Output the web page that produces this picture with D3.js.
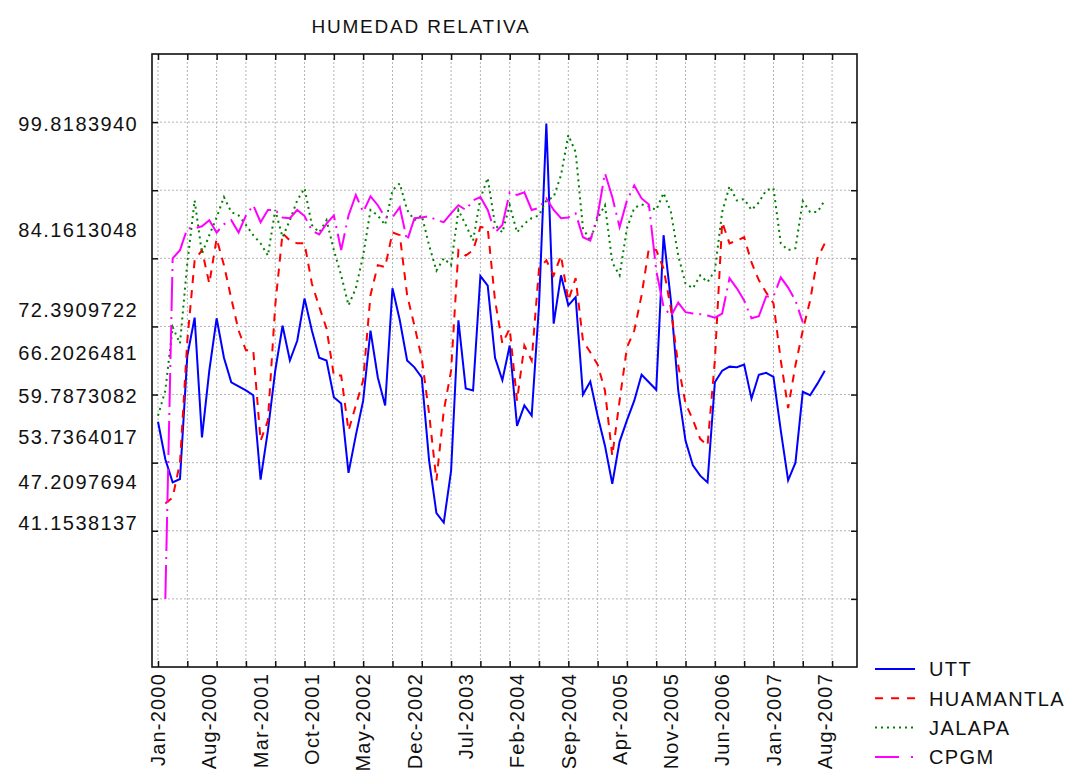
<!DOCTYPE html>
<html>
<head>
<meta charset="utf-8">
<script src="https://cdn.jsdelivr.net/npm/d3@7"></script>
<style>
  body { margin: 0; background: #fff; }
  svg text { font-family: "Liberation Sans", Arial, sans-serif; fill: #111; }
</style>
</head>
<body>
<div id="chart"></div>
<script>
const title = "HUMEDAD RELATIVA";
const seriesNames = ["UTT", "HUAMANTLA", "JALAPA", "CPGM"];
const monthNames = ["Jan","Feb","Mar","Apr","May","Jun","Jul","Aug","Sep","Oct","Nov","Dec"];
const xTickLabels = ["Jan-2000","Aug-2000","Mar-2001","Oct-2001","May-2002","Dec-2002","Jul-2003",
    "Feb-2004","Sep-2004","Apr-2005","Nov-2005","Jun-2006","Jan-2007","Aug-2007"];
const yTickLabels = [99.8183940, 84.1613048, 72.3909722, 66.2026481, 59.7873082, 53.7364017, 47.2097694, 41.1538137];
const gridValues = [30, 40, 50, 60, 70, 80, 90, 100];

// monthly values, Jan-2000 .. Aug-2007
const utt = [
    56.0, 50.5, 47.1, 47.6, 65.7, 71.3, 53.7, 63.5, 71.2, 65.4,
    61.8, 61.2, 60.6, 59.9, 47.5, 54.7, 63.5, 70.1, 65.0, 67.9,
    74.1, 69.4, 65.4, 65.0, 59.6, 58.7, 48.5, 54.0, 59.1, 69.4,
    62.5, 58.4, 75.6, 70.9, 65.0, 64.0, 62.5, 50.3, 42.6, 41.2,
    48.8, 70.9, 60.9, 60.6, 77.4, 76.0, 65.4, 62.1, 67.2, 55.4,
    58.4, 56.9, 73.1, 99.8, 70.4, 77.5, 73.1, 74.3, 60.0, 61.9,
    56.9, 52.5, 46.9, 53.1, 56.2, 59.1, 62.9, 61.8, 60.7, 83.4,
    73.8, 60.6, 53.2, 49.6, 48.1, 47.1, 61.8, 63.5, 64.1, 64.0,
    64.4, 59.4, 62.9, 63.2, 62.6, 54.7, 47.4, 50.0, 60.4, 59.9,
    61.6, 63.5
];
const huamantla = [
    null, 44.0, 44.9, 50.0, 67.9, 79.7, 81.2, 76.3, 82.9, 79.0,
    74.1, 69.4, 66.5, 66.5, 53.2, 56.2, 73.1, 83.7, 82.6, 82.2,
    82.2, 76.3, 72.9, 69.7, 62.8, 62.8, 54.7, 58.4, 62.1, 74.6,
    79.0, 78.7, 83.8, 83.4, 74.6, 70.1, 65.3, 57.2, 47.4, 57.6,
    63.5, 81.2, 80.4, 81.2, 84.6, 84.4, 73.8, 67.5, 69.7, 59.1,
    67.2, 65.0, 78.5, 79.7, 77.5, 80.4, 73.8, 77.1, 67.9, 66.2,
    64.4, 60.6, 51.0, 59.1, 66.9, 69.4, 74.6, 81.5, 81.2, 78.5,
    72.6, 64.3, 58.7, 56.3, 53.5, 52.5, 65.0, 85.3, 82.2, 82.6,
    83.1, 79.4, 76.8, 75.0, 73.4, 65.0, 58.0, 64.3, 69.4, 73.8,
    80.0, 82.2
];
const jalapa = [
    56.9, 60.6, 69.9, 67.5, 79.3, 88.5, 80.7, 83.4, 86.0, 89.0,
    86.8, 86.3, 84.9, 83.4, 82.2, 80.4, 87.1, 83.1, 85.6, 88.5,
    90.3, 84.9, 83.8, 85.6, 81.2, 77.5, 73.1, 75.6, 80.4, 87.1,
    86.3, 84.9, 90.0, 91.0, 87.1, 85.6, 86.3, 81.9, 78.2, 80.0,
    79.0, 87.1, 84.9, 82.6, 88.8, 91.8, 84.9, 83.8, 87.8, 83.8,
    85.1, 85.9, 86.3, 88.5, 89.0, 92.2, 98.1, 95.6, 84.4, 82.6,
    85.9, 87.8, 79.4, 77.5, 84.4, 87.4, 87.9, 87.6, 87.1, 89.6,
    86.8, 80.4, 76.3, 75.6, 77.5, 76.5, 78.2, 86.8, 90.6, 88.5,
    88.7, 87.1, 88.2, 90.0, 90.3, 82.2, 81.2, 81.5, 88.4, 86.8,
    86.8, 88.5
];
const cpgm = [
    null, 30.0, 80.0, 81.2, 84.4, 84.4, 84.7, 85.6, 83.8, 85.0,
    85.6, 83.8, 86.3, 87.8, 85.3, 87.1, 87.1, 86.0, 85.9, 87.1,
    86.2, 84.1, 83.5, 85.1, 86.3, 81.2, 86.3, 89.3, 86.8, 89.1,
    87.8, 86.0, 86.0, 87.5, 82.6, 85.9, 86.0, 86.2, 85.6, 85.3,
    86.6, 87.8, 87.1, 88.5, 89.0, 87.1, 83.8, 84.9, 89.7, 89.3,
    89.7, 87.1, 87.4, 88.8, 87.1, 85.9, 86.0, 86.6, 83.1, 82.6,
    86.3, 92.5, 89.0, 84.6, 88.5, 90.7, 88.8, 87.9, 78.2, 72.9,
    71.5, 73.5, 72.1, 71.9, 71.8, 71.6, 71.3, 71.9, 77.1, 75.6,
    73.8, 71.2, 71.5, 74.4, 74.4, 77.2, 75.7, 73.8, 70.6, null,
    null, null
];

const seriesValues = [utt, huamantla, jalapa, cpgm];
const seriesColors = ["#0000ff", "#ff0000", "#008000", "#ff00ff"];
const seriesDash = [null, "8,7", "2,4", "34,6,2,6"];
const legendDash = [null, "8,8", "2,4", "24,12,2,12"];
const seriesWidth = [2, 2, 2, 2];

function monthIndex(label) {
    const [mon, yr] = label.split("-");
    return (+yr - 2000) * 12 + monthNames.indexOf(mon);
}

const width = 1072, height = 779;
const plot = {left: 152, top: 54, right: 857, bottom: 667};

const svg = d3.select("#chart").append("svg")
    .attr("width", width)
    .attr("height", height);

const x = d3.scaleLinear().domain([-0.82, 95.4]).range([plot.left, plot.right]);
const y = d3.scaleLinear().domain([20, 110]).range([plot.bottom, plot.top]);

const xTicks = d3.range(0, 93, 4);

// grid
const grid = svg.append("g").attr("stroke", "#b4b4b4").attr("stroke-width", 1).attr("stroke-dasharray", "2,2");
grid.selectAll("line.v").data(xTicks).join("line")
    .attr("x1", d => x(d)).attr("x2", d => x(d))
    .attr("y1", plot.top).attr("y2", plot.bottom);
grid.selectAll("line.h").data(gridValues).join("line")
    .attr("x1", plot.left).attr("x2", plot.right)
    .attr("y1", d => y(d)).attr("y2", d => y(d));

// series
const line = d3.line()
    .defined(d => d.v != null)
    .x(d => x(d.m))
    .y(d => y(d.v));

seriesValues.forEach((vals, i) => {
    svg.append("path")
        .datum(vals.map((v, m) => ({m: m, v: v})))
        .attr("fill", "none")
        .attr("stroke", seriesColors[i])
        .attr("stroke-width", seriesWidth[i])
        .attr("stroke-dasharray", seriesDash[i])
        .attr("d", line);
});

// axes with inward ticks
function noDomain(g) { g.select(".domain").remove(); g.selectAll(".tick line").attr("stroke", "#111").attr("stroke-width", 1.5); }
svg.append("g").attr("transform", `translate(0,${plot.bottom})`)
    .call(d3.axisBottom(x).tickValues(xTicks).tickSize(-6).tickFormat("")).call(noDomain);
svg.append("g").attr("transform", `translate(0,${plot.top})`)
    .call(d3.axisTop(x).tickValues(xTicks).tickSize(-6).tickFormat("")).call(noDomain);
svg.append("g").attr("transform", `translate(${plot.left},0)`)
    .call(d3.axisLeft(y).tickValues(gridValues).tickSize(-6).tickFormat("")).call(noDomain);
svg.append("g").attr("transform", `translate(${plot.right},0)`)
    .call(d3.axisRight(y).tickValues(gridValues).tickSize(-6).tickFormat("")).call(noDomain);

svg.append("rect")
    .attr("x", plot.left).attr("y", plot.top)
    .attr("width", plot.right - plot.left).attr("height", plot.bottom - plot.top)
    .attr("fill", "none").attr("stroke", "#111").attr("stroke-width", 1.6);

// y labels (placed at their own values)
svg.append("g").selectAll("text").data(yTickLabels).join("text")
    .attr("x", 138)
    .attr("y", d => y(d))
    .attr("dy", "0.36em")
    .attr("text-anchor", "end")
    .style("font-size", "20px")
    .style("letter-spacing", "1.4px")
    .text(d => d.toFixed(7));

// x labels, rotated
svg.append("g").selectAll("text").data(xTickLabels).join("text")
    .attr("transform", d => `translate(${x(monthIndex(d))},${plot.bottom + 6}) rotate(-90)`)
    .attr("dy", "0.36em")
    .attr("text-anchor", "end")
    .style("font-size", "20px")
    .style("letter-spacing", "1.2px")
    .text(d => d);

// title
svg.append("text")
    .attr("x", 421)
    .attr("y", 33)
    .attr("text-anchor", "middle")
    .style("font-size", "19px")
    .style("letter-spacing", "1.8px")
    .text(title);

// legend
const legend = svg.append("g").attr("transform", "translate(875,669)");
seriesNames.forEach((name, i) => {
    const row = legend.append("g").attr("transform", `translate(0,${i * 29.3})`);
    row.append("line")
        .attr("x1", 0).attr("x2", 40)
        .attr("stroke", seriesColors[i])
        .attr("stroke-width", seriesWidth[i])
        .attr("stroke-dasharray", legendDash[i]);
    row.append("text")
        .attr("x", 54)
        .attr("dy", "0.36em")
        .style("font-size", "20px")
        .style("letter-spacing", "1.4px")
        .text(name);
});
</script>
</body>
</html>
